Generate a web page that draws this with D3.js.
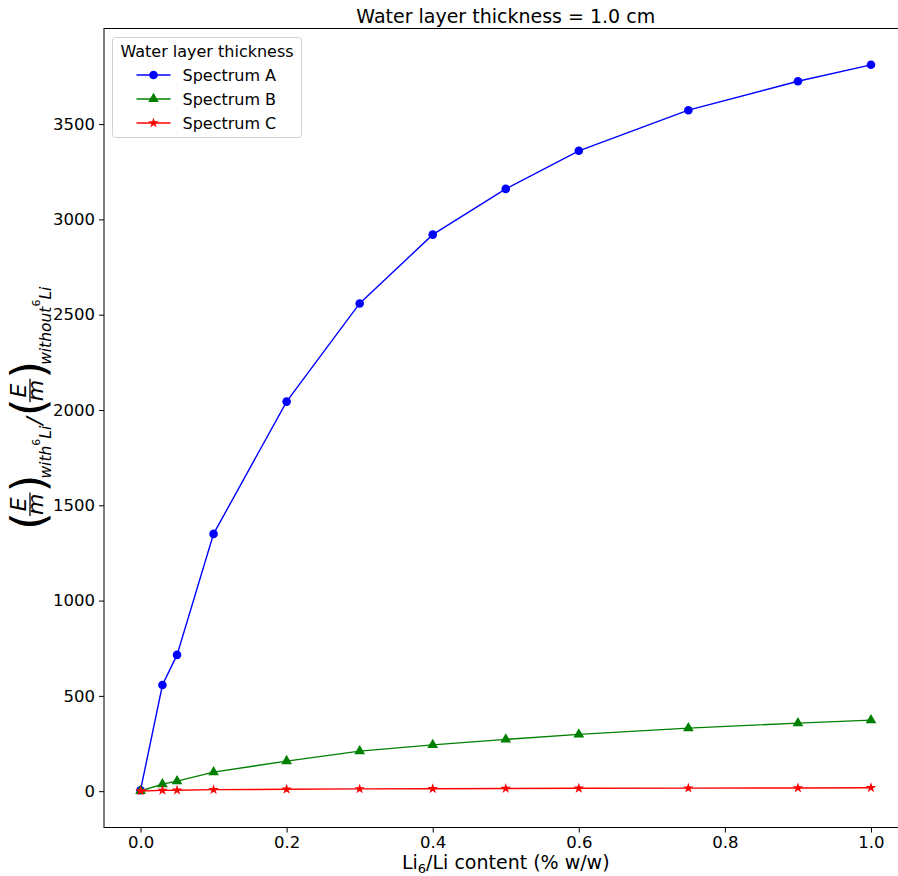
<!DOCTYPE html>
<html>
<head>
<meta charset="utf-8">
<script src="https://cdn.jsdelivr.net/npm/d3@7"></script>
<style>
  body { margin: 0; background: #fff; }
  text { font-family: "DejaVu Sans", sans-serif; }
</style>
</head>
<body>
<script>
var liContent = [0, 0.03, 0.05, 0.1, 0.2, 0.3, 0.4, 0.5, 0.6, 0.75, 0.9, 1.0];
var spectrumA = [5, 557, 715, 1350, 2044, 2559, 2920, 3160, 3360, 3573, 3725, 3811];
var spectrumB = [1, 37, 53, 100, 158, 210, 243, 272, 298, 331, 357, 373];
var spectrumC = [1, 4, 5, 8, 10, 12, 13, 14, 15, 16, 17, 18];
var xTicks = [0, 0.2, 0.4, 0.6, 0.8, 1.0];
var yTicks = [0, 500, 1000, 1500, 2000, 2500, 3000, 3500];

var series = [
    { name: "Spectrum A", values: spectrumA, color: "#0000ff", marker: d3.symbolCircle, size: 58 },
    { name: "Spectrum B", values: spectrumB, color: "#008000", marker: d3.symbolTriangle, size: 50 },
    { name: "Spectrum C", values: spectrumC, color: "#ff0000", marker: d3.symbolStar, size: 34 }
];

var W = 898, H = 876;
var axLeft = 104, axRight = 907.5, axTop = 28.5, axBottom = 827.5;

var svg = d3.select("body")
        .append("svg")
        .attr("width", W)
        .attr("height", H);

var x = d3.scaleLinear().domain([-0.05, 1.05]).range([axLeft, axRight]);
var y = d3.scaleLinear().domain([-190.55, 4001.55]).range([axBottom, axTop]);

// axes
svg.append("g")
    .attr("transform", "translate(0," + axBottom + ")")
    .call(d3.axisBottom(x).tickValues(xTicks).tickFormat(d3.format(".1f")).tickSize(5).tickPadding(4))
    .call(g => g.select(".domain").remove())
    .selectAll("text")
    .attr("font-size", 16.5)
    .attr("fill", "#000");

svg.append("g")
    .attr("transform", "translate(" + axLeft + ",0)")
    .call(d3.axisLeft(y).tickValues(yTicks).tickFormat(d3.format("d")).tickSize(5).tickPadding(4))
    .call(g => g.select(".domain").remove())
    .selectAll("text")
    .attr("font-size", 16.5)
    .attr("fill", "#000");

svg.selectAll(".tick line").attr("stroke", "#000").attr("stroke-width", 1);

// frame
svg.append("rect")
    .attr("x", axLeft)
    .attr("y", axTop)
    .attr("width", axRight - axLeft)
    .attr("height", axBottom - axTop)
    .attr("fill", "none")
    .attr("stroke", "#000")
    .attr("stroke-width", 1);

// lines + markers
var line = d3.line()
    .x((d, i) => x(liContent[i]))
    .y(d => y(d));

series.forEach(s => {
    svg.append("path")
        .attr("d", line(s.values))
        .attr("fill", "none")
        .attr("stroke", s.color)
        .attr("stroke-width", 1.4);
    svg.selectAll(null)
        .data(s.values)
        .enter()
        .append("path")
        .attr("d", d3.symbol().type(s.marker).size(s.size))
        .attr("transform", (d, i) => "translate(" + x(liContent[i]) + "," + y(d) + ")")
        .attr("fill", s.color);
});

// title
svg.append("text")
    .attr("x", (axLeft + axRight) / 2)
    .attr("y", 23)
    .attr("text-anchor", "middle")
    .attr("font-size", 19)
    .text("Water layer thickness = 1.0 cm");

// x label
var xl = svg.append("text")
    .attr("x", (axLeft + axRight) / 2)
    .attr("y", 869)
    .attr("text-anchor", "middle")
    .attr("font-size", 19);
xl.append("tspan").text("Li");
xl.append("tspan").attr("font-size", 13).attr("dy", 4).text("6");
xl.append("tspan").attr("dy", -4).text("/Li content (% w/w)");

// y label (mathtext-like)
var yl = svg.append("g");
var cursor = 0;
function piece(txt, size, dy, italic, gap) {
    var t = yl.append("text")
        .attr("x", cursor)
        .attr("y", dy)
        .attr("font-size", size)
        .attr("font-style", italic ? "italic" : "normal")
        .text(txt);
    cursor += t.node().getComputedTextLength() + (gap || 0);
    return t;
}
function fraction() {
    var e = yl.append("text").attr("x", cursor).attr("y", -2).attr("font-size", 22)
        .attr("font-style", "italic").text("E");
    var m = yl.append("text").attr("x", cursor).attr("y", 15).attr("font-size", 22)
        .attr("font-style", "italic").text("m");
    var wE = e.node().getComputedTextLength(), wM = m.node().getComputedTextLength();
    var w = Math.max(wE, wM) + 2;
    e.attr("x", cursor + (w - wE) / 2);
    m.attr("x", cursor + (w - wM) / 2);
    yl.append("line")
        .attr("x1", cursor).attr("x2", cursor + w)
        .attr("y1", 2).attr("y2", 2)
        .attr("stroke", "#000").attr("stroke-width", 1.3);
    cursor += w;
}
function paren(ch) {
    var t = yl.append("text")
        .attr("x", cursor)
        .attr("y", 16)
        .attr("font-size", 46)
        .text(ch);
    cursor += t.node().getComputedTextLength() * 0.78;
}
paren("(");
fraction();
paren(")");
piece("with", 15.5, 23, true);
piece("6", 11, 12, false);
piece("Li", 15.5, 23, true, 1);
piece("/", 22, 14, true, 1);
paren("(");
fraction();
paren(")");
piece("without", 15.5, 23, true);
piece("6", 11, 12, false);
piece("Li", 15.5, 23, true);
var labelBottom = 530;
yl.attr("transform", "translate(28," + labelBottom + ") rotate(-90)");

// legend
var lg = svg.append("g").attr("transform", "translate(112.5,37.5)");
lg.append("rect")
    .attr("width", 189)
    .attr("height", 100)
    .attr("rx", 3)
    .attr("fill", "#fff")
    .attr("fill-opacity", 0.8)
    .attr("stroke", "#d0d0d0")
    .attr("stroke-width", 1);
lg.append("text")
    .attr("x", 94.5)
    .attr("y", 19)
    .attr("text-anchor", "middle")
    .attr("font-size", 16)
    .text("Water layer thickness");
series.forEach((s, i) => {
    var ey = 37.5 + i * 24;
    lg.append("line")
        .attr("x1", 24).attr("x2", 58)
        .attr("y1", ey).attr("y2", ey)
        .attr("stroke", s.color).attr("stroke-width", 1.4);
    lg.append("path")
        .attr("d", d3.symbol().type(s.marker).size(s.size))
        .attr("transform", "translate(41," + ey + ")")
        .attr("fill", s.color);
    lg.append("text")
        .attr("x", 70)
        .attr("y", ey + 5.5)
        .attr("font-size", 16)
        .text(s.name);
});
</script>
</body>
</html>
